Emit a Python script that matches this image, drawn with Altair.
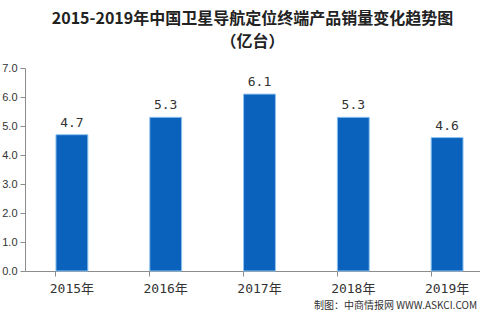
import altair as alt
import pandas as pd

years = ["2015年", "2016年", "2017年", "2018年", "2019年"]
sales = [4.7, 5.3, 6.1, 5.3, 4.6]
source_note = ["制图：中商情报网 WWW.ASKCI.COM"]

df = pd.DataFrame({"year": years, "sales": sales})
note_df = pd.DataFrame({"note": source_note})

x = alt.X("year:N", sort=years, title=None,
          scale=alt.Scale(range=[0, 469], paddingInner=0.66, paddingOuter=0.33),
          axis=alt.Axis(labelAngle=0, bandPosition=0, domainColor="#8c8c8c",
                        tickColor="#8c8c8c", tickSize=5, labelPadding=6,
                        labelFont="DejaVu Sans Mono, Noto Sans CJK SC", labelFontSize=13,
                        labelColor="#333333", labelBound=False, labelFlush=False))
y = alt.Y("sales:Q", title=None,
          scale=alt.Scale(domain=[0, 7], nice=False),
          axis=alt.Axis(values=[0, 1, 2, 3, 4, 5, 6, 7], format=".1f", grid=False,
                        domainColor="#8c8c8c", tickColor="#8c8c8c", tickSize=5,
                        labelPadding=3, labelFont="Liberation Sans", labelFontSize=11,
                        labelColor="#333333"))

base = alt.Chart(df).encode(x=x, y=y)
bars = base.mark_bar(color="#0B62BD", stroke="#8EC4F0", strokeWidth=1)
labels = base.mark_text(dy=-12, font="DejaVu Sans Mono", fontSize=13, color="#333333").encode(
    text=alt.Text("sales:Q", format=".1f"))

note = alt.Chart(note_df).mark_text(align="right", baseline="middle",
                                    font="Noto Sans CJK SC, Liberation Sans",
                                    fontSize=10, color="#333333").encode(
    text="note:N", x=alt.value(452), y=alt.value(238))

chart = alt.layer(bars, labels, note).properties(
    width=455, height=203,
    autosize=alt.AutoSizeParams(type="none"),
    padding={"left": 25, "top": 68, "right": 0, "bottom": 49},
    title=alt.TitleParams(
        text=["2015-2019年中国卫星导航定位终端产品销量变化趋势图", "（亿台）"],
        font="Noto Sans CJK SC", fontSize=16, fontWeight="bold", color="#222222",
        anchor="middle", lineHeight=23, offset=12, frame="group"),
).configure(background="white").configure_view(strokeWidth=0, stroke="transparent")

chart.save("out.html", embed_options={"renderer": "svg", "actions": False})
